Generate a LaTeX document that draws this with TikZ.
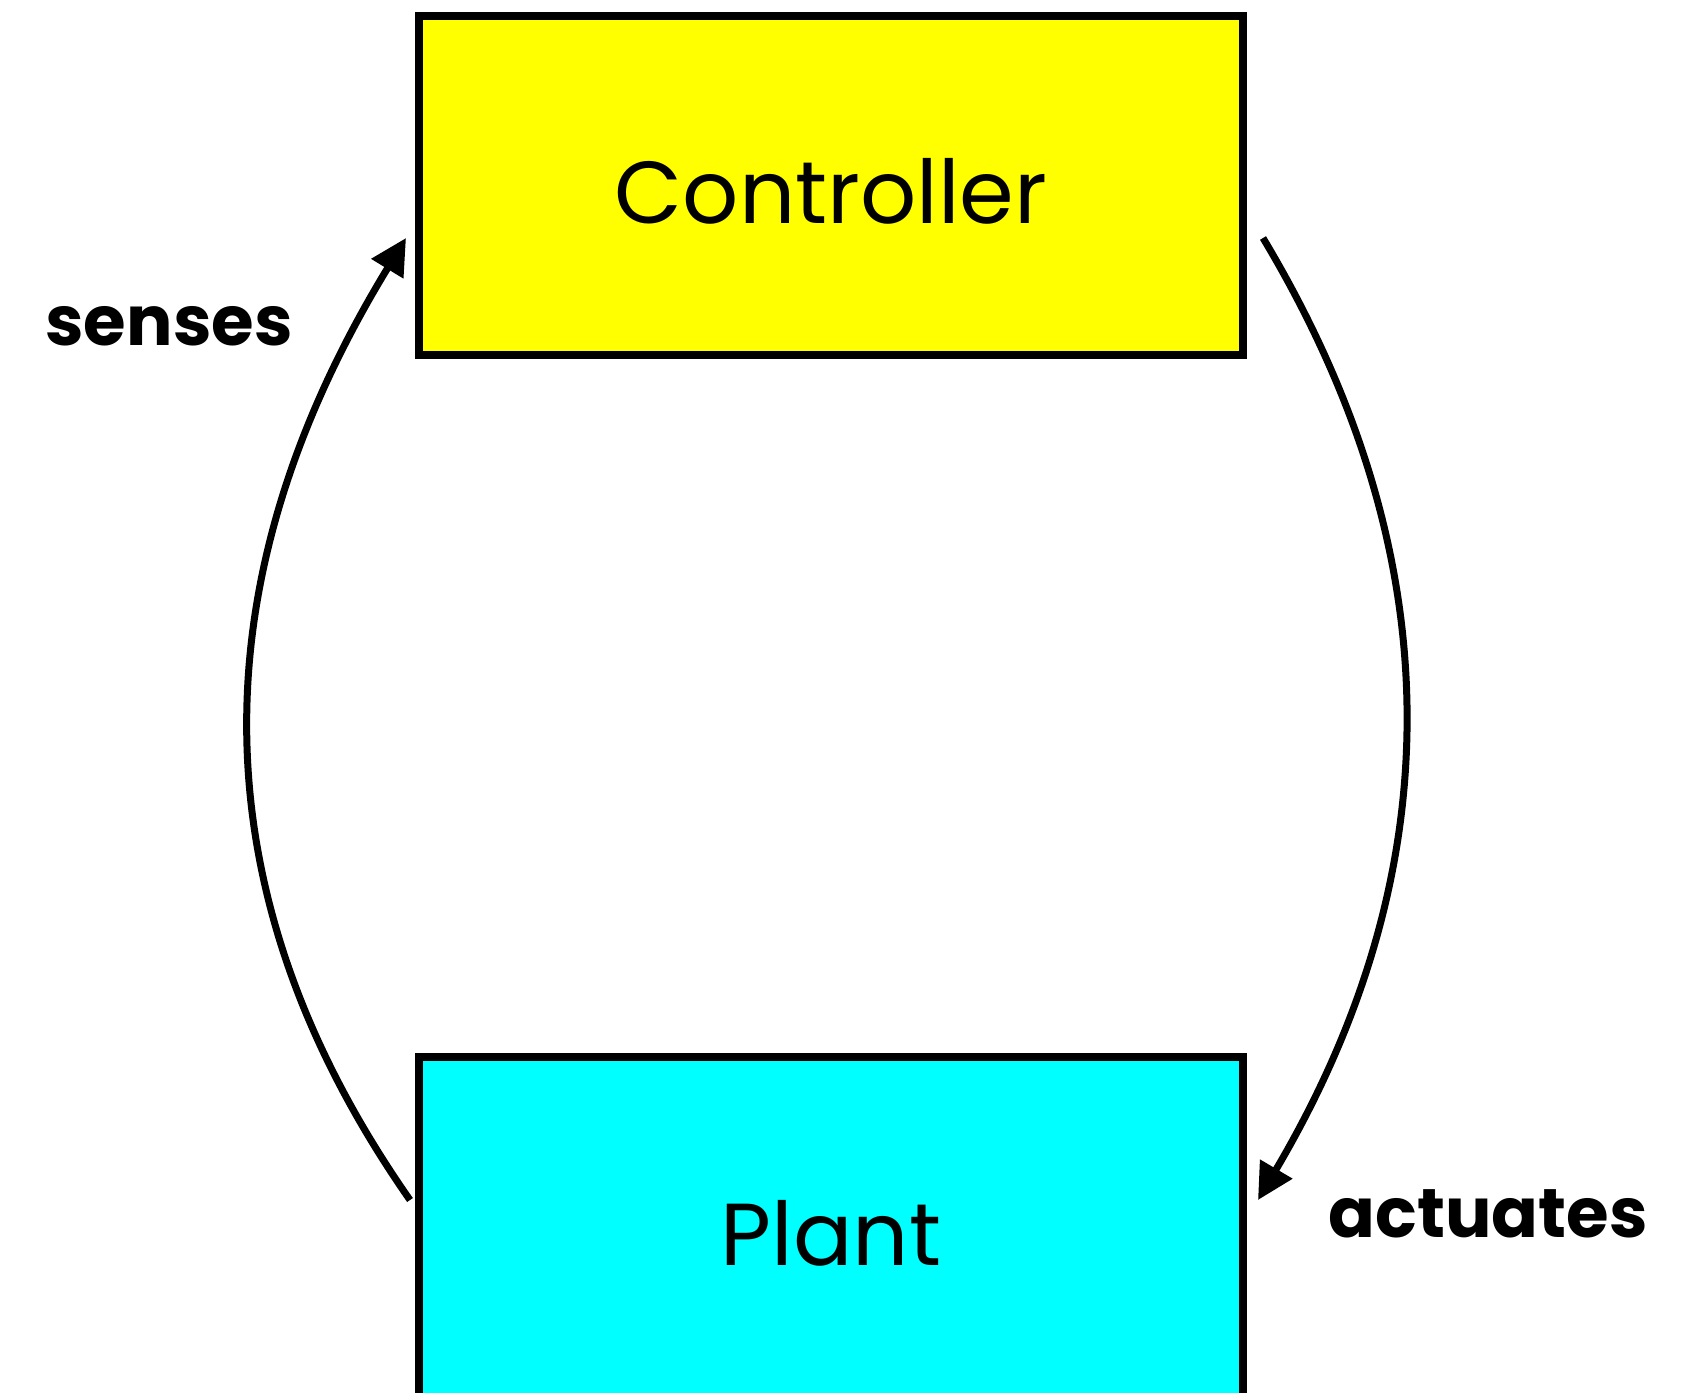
\documentclass[tikz,border=0pt]{standalone}
\usepackage{fontspec}
\setmainfont{Poppins}
\usetikzlibrary{arrows.meta,calc}
\definecolor{ctrlyellow}{RGB}{255,255,0}
\definecolor{plantcyan}{RGB}{0,255,255}
\tikzset{
  blockbox/.style={draw=black, line width=8pt, minimum width=824pt, inner sep=0pt, outer sep=0pt},
  loopline/.style={line width=7pt, -{Triangle[length=36pt,width=36pt]}},
  blocktext/.style={font=\fontsize{88}{96}\selectfont},
  looplabel/.style={font=\fontsize{69}{80}\selectfont\bfseries, inner sep=0pt},
}
\begin{document}
\begin{tikzpicture}[x=1pt,y=-1pt]
  \useasboundingbox (0,0) rectangle (1685,1392);
  % the two blocks of the loop
  \node[blockbox, fill=ctrlyellow, minimum height=339pt] (ctrl) at (831,185.5) {};
  \node[blocktext] (ctrltext) at (831,191) {Controller};
  \node[blockbox, fill=plantcyan, minimum height=352pt] (plant) at (831,1233) {};
  \node[blocktext] (planttext) at (831,1233) {Plant};
  % end points of the feedback arcs, just off the block edges
  \coordinate (senseStart) at ($(plant.north west)+(-9,143)$);
  \coordinate (senseEnd) at ($(ctrl.south west)+(-13,-117)$);
  \coordinate (actStart) at ($(ctrl.south east)+(20,-117)$);
  \coordinate (actEnd) at ($(plant.north east)+(15,143)$);
  \draw[loopline] (senseStart) .. controls (196,894) and (196,582) .. (senseEnd);
  \draw[loopline] (actStart) .. controls (1453,555) and (1453,870) .. (actEnd);
  % labels
  \node[looplabel] (senses) at (169,326) {senses};
  \node[looplabel] (actuates) at (1488,1214) {actuates};
\end{tikzpicture}
\end{document}
